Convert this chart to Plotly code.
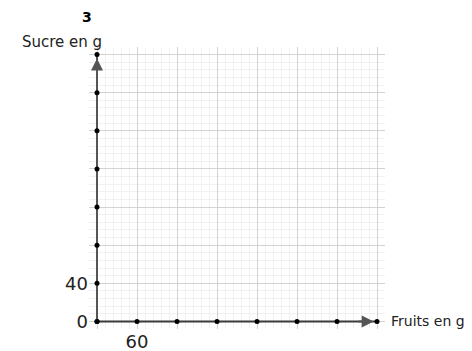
import plotly.graph_objects as go

# graduations on the axes (data units)
fruits_ticks = [0, 60, 120, 180, 240, 300, 360, 420]
sucre_ticks = [0, 40, 80, 120, 160, 200, 240, 280]

# only a few graduations carry a number
x_text = ["", "60", "", "", "", "", "", ""]
y_text = ["0", "40", "", "", "", "", "", ""]

fig = go.Figure()

# x axis line with dots
fig.add_trace(go.Scatter(
    x=fruits_ticks, y=[0] * len(fruits_ticks),
    mode='lines+markers',
    line=dict(color='#3a3a3a', width=2),
    marker=dict(color='black', size=5),
    hoverinfo='skip', showlegend=False
))

# y axis line with dots
fig.add_trace(go.Scatter(
    x=[0] * len(sucre_ticks), y=sucre_ticks,
    mode='lines+markers',
    line=dict(color='#555555', width=2),
    marker=dict(color='black', size=5),
    hoverinfo='skip', showlegend=False
))

# arrow heads
fig.add_annotation(x=fruits_ticks[-1] - 5, y=0, ax=fruits_ticks[-2] + 30, ay=0,
                   xref='x', yref='y', axref='x', ayref='y', text='',
                   showarrow=True, arrowhead=2, arrowsize=1.2, arrowwidth=2,
                   arrowcolor='#555555')
fig.add_annotation(x=0, y=sucre_ticks[-1] - 4, ax=0, ay=sucre_ticks[-2] + 20,
                   xref='x', yref='y', axref='x', ayref='y', text='',
                   showarrow=True, arrowhead=2, arrowsize=1.2, arrowwidth=2,
                   arrowcolor='#555555')

fig.add_annotation(x=0, y=1.0, xref='x', yref='paper', yanchor='bottom',
                   xanchor='right', xshift=7, yshift=-6,
                   text='Sucre en g', showarrow=False,
                   font=dict(size=15, color='#222'))
fig.add_annotation(x=1.0, y=0, xref='paper', yref='y', xanchor='left',
                   xshift=4, text='Fruits en g', showarrow=False,
                   font=dict(size=14, color='#222'))
fig.add_annotation(x=0, y=1.0, xref='x', yref='paper', yanchor='bottom',
                   xanchor='center', xshift=-10, yshift=20,
                   text='<b>3</b>', showarrow=False,
                   font=dict(size=14, color='black'))

# the page body has an 8px margin, so the figure is a bit smaller than the window
fig.update_layout(
    width=464, height=343,
    margin=dict(l=81, r=87, t=39, b=22),
    plot_bgcolor='white', paper_bgcolor='white',
    font=dict(family='DejaVu Sans', color='#222'),
    xaxis=dict(range=[-12, 432], automargin=False,
               showgrid=True, gridcolor='#d2d2d2', gridwidth=1,
               minor=dict(dtick=12, tick0=0, showgrid=True,
                          gridcolor='#f1f1f1', gridwidth=1),
               zeroline=False, showline=False,
               tickmode='array', tickvals=fruits_ticks, ticktext=x_text,
               tickfont=dict(size=18), ticks=''),
    yaxis=dict(range=[-8, 288], automargin=False,
               showgrid=True, gridcolor='#d2d2d2', gridwidth=1,
               minor=dict(dtick=8, tick0=0, showgrid=True,
                          gridcolor='#f1f1f1', gridwidth=1),
               zeroline=False, showline=False,
               tickmode='array', tickvals=sucre_ticks, ticktext=y_text,
               tickfont=dict(size=18), ticks=''),
)

fig.write_html("out.html")
